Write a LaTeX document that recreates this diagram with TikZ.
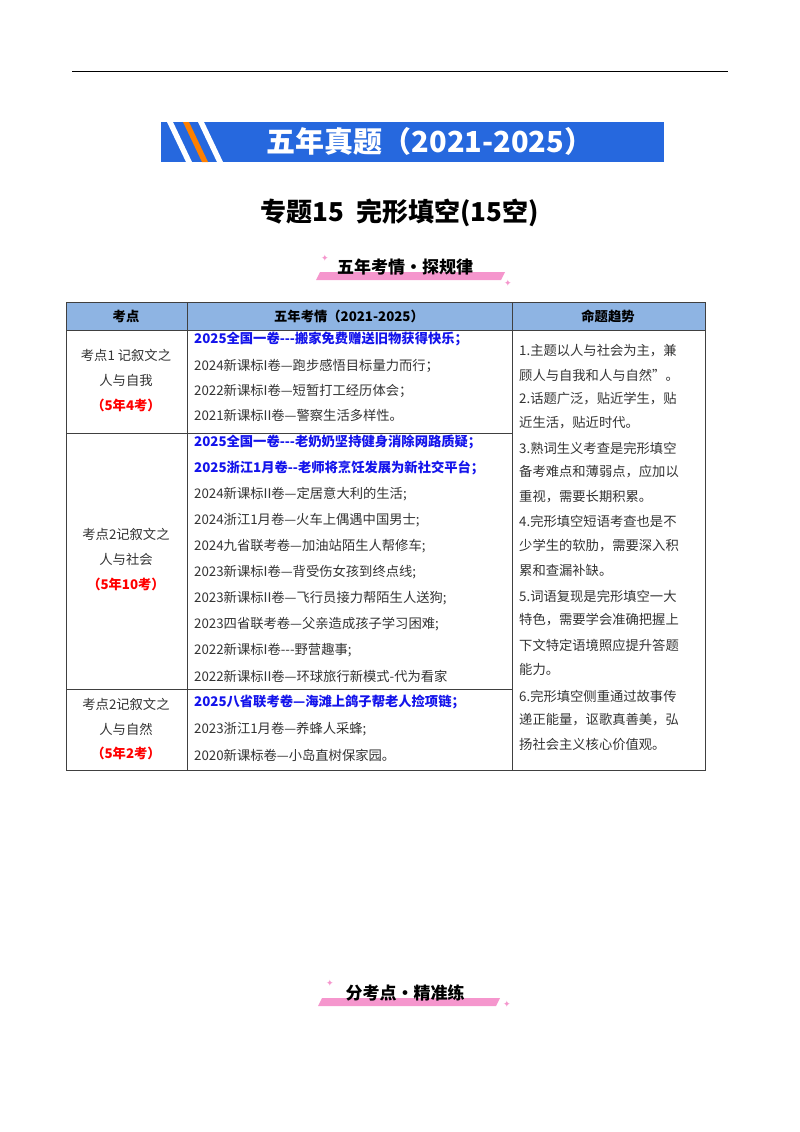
\documentclass[tikz,border=0pt]{standalone}
\usepackage{fontspec}
\setmainfont{Noto Sans CJK SC}
\newfontfamily\symf{DejaVu Sans}
\definecolor{banblue}{RGB}{38,104,222}
\definecolor{hdblue}{RGB}{142,180,227}
\definecolor{pinkbar}{RGB}{245,150,205}
\definecolor{txtblue}{RGB}{20,20,235}
\begin{document}
\begin{tikzpicture}[x=1pt,y=-1pt,
  body/.style={anchor=west,inner sep=0pt,font=\fontsize{13.3}{15}\selectfont,text=black!80},
  blu/.style={anchor=west,inner sep=0pt,font=\fontsize{13.3}{15}\selectfont\bfseries,text=txtblue},
  lab/.style={inner sep=0pt,font=\fontsize{13.3}{15}\selectfont,text=black!80},
  red/.style={inner sep=0pt,font=\fontsize{13.3}{15}\selectfont\bfseries,text=red},
  hd/.style={inner sep=0pt,font=\fontsize{13.3}{15}\selectfont\bfseries},
  star/.style={text=pinkbar,font=\symf\small},
  grid/.style={draw=black!75,line width=0.7pt}]
\useasboundingbox (0,0) rectangle (800,1132);
\draw[line width=1pt] (72,72) -- (728,72);
% banner
\fill[banblue] (161,122) rectangle (664,162);
\fill[white] (167,122) -- (173,122) -- (192,162) -- (186,162) -- cycle;
\fill[orange] (183,122) -- (189,122) -- (208,162) -- (202,162) -- cycle;
\fill[white] (198,122) -- (204,122) -- (223,162) -- (217,162) -- cycle;
\node[text=white,font=\fontsize{29}{31}\selectfont\bfseries] (ban) at (430,141) {五年真题（2021-2025）};
\node[font=\fontsize{26}{28}\selectfont\bfseries] (title) at (400,213) {专题15\ \ 完形填空(15空)};
% badge 1
\fill[pinkbar] (320,272) -- (505,272) -- (501,280) -- (316,280) -- cycle;
\node[font=\fontsize{17}{19}\selectfont\bfseries] (b1) at (405,267) {五年考情・探规律};
\node[star] (s1) at (325,258) {✦};
\node[star] (s2) at (508,283) {✦};
% badge 2
\fill[pinkbar] (322,998) -- (500,998) -- (496,1006) -- (318,1006) -- cycle;
\node[font=\fontsize{17}{19}\selectfont\bfseries] (b2) at (405,993) {分考点・精准练};
\node[star] (s3) at (330,983) {✦};
\node[star] (s4) at (507,1004) {✦};
% table
\fill[hdblue] (66,302) rectangle (705,330);
\draw[grid] (66,302) rectangle (705,770);
\draw[grid] (66,330) -- (705,330);
\draw[grid] (187,302) -- (187,770);
\draw[grid] (512,302) -- (512,770);
\draw[grid] (66,433) -- (512,433);
\draw[grid] (66,689) -- (512,689);
\node[hd] (h1) at (126,316) {考点};
\node[hd] (h2) at (349,316) {五年考情（2021-2025）};
\node[hd] (h3) at (608,316) {命题趋势};
% left labels
\node[lab] at (126,355) {考点1\ 记叙文之};
\node[lab] at (126,380) {人与自我};
\node[red] at (126,405) {（5年4考）};
\node[lab] at (126,534) {考点2记叙文之};
\node[lab] at (126,559) {人与社会};
\node[red] at (126,584) {（5年10考）};
\node[lab] at (126,704) {考点2记叙文之};
\node[lab] at (126,729) {人与自然};
\node[red] at (126,753) {（5年2考）};
% middle
\node[blu] at (194,339) {2025全国一卷-{}-{}-搬家免费赠送旧物获得快乐；};
\node[body] at (194,366) {2024新课标I卷—跑步感悟目标量力而行；};
\node[body] at (194,391) {2022新课标I卷—短暂打工经历体会；};
\node[body] at (194,415) {2021新课标II卷—警察生活多样性。};
\node[blu] at (194,442) {2025全国一卷-{}-{}-老奶奶坚持健身消除网路质疑；};
\node[blu] at (194,468) {2025浙江1月卷-{}-老师将烹饪发展为新社交平台；};
\node[body] at (194,494) {2024新课标II卷—定居意大利的生活;};
\node[body] at (194,520) {2024浙江1月卷—火车上偶遇中国男士;};
\node[body] at (194,546) {2024九省联考卷—加油站陌生人帮修车;};
\node[body] at (194,572) {2023新课标I卷—背受伤女孩到终点线;};
\node[body] at (194,598) {2023新课标II卷—飞行员接力帮陌生人送狗;};
\node[body] at (194,624) {2023四省联考卷—父亲造成孩子学习困难;};
\node[body] at (194,650) {2022新课标I卷-{}-{}-野营趣事;};
\node[body] at (194,676) {2022新课标II卷—环球旅行新模式-代为看家};
\node[blu] at (194,702) {2025八省联考卷—海滩上鸽子帮老人捡项链；};
\node[body] at (194,729) {2023浙江1月卷—养蜂人采蜂;};
\node[body] at (194,755) {2020新课标卷—小岛直树保家园。};
% right
\node[body] at (519,351) {1.主题以人与社会为主，兼};
\node[body] at (519,375) {顾人与自我和人与自然”。};
\node[body] at (519,399) {2.话题广泛，贴近学生，贴};
\node[body] at (519,423) {近生活，贴近时代。};
\node[body] at (519,448) {3.熟词生义考查是完形填空};
\node[body] at (519,472) {备考难点和薄弱点，应加以};
\node[body] at (519,497) {重视，需要长期积累。};
\node[body] at (519,521) {4.完形填空短语考查也是不};
\node[body] at (519,546) {少学生的软肋，需要深入积};
\node[body] at (519,570) {累和查漏补缺。};
\node[body] at (519,596) {5.词语复现是完形填空一大};
\node[body] at (519,620) {特色，需要学会准确把握上};
\node[body] at (519,645) {下文特定语境照应提升答题};
\node[body] at (519,669) {能力。};
\node[body] at (519,696) {6.完形填空侧重通过故事传};
\node[body] at (519,720) {递正能量，讴歌真善美，弘};
\node[body] at (519,744) {扬社会主义核心价值观。};
\end{tikzpicture}
\end{document}
